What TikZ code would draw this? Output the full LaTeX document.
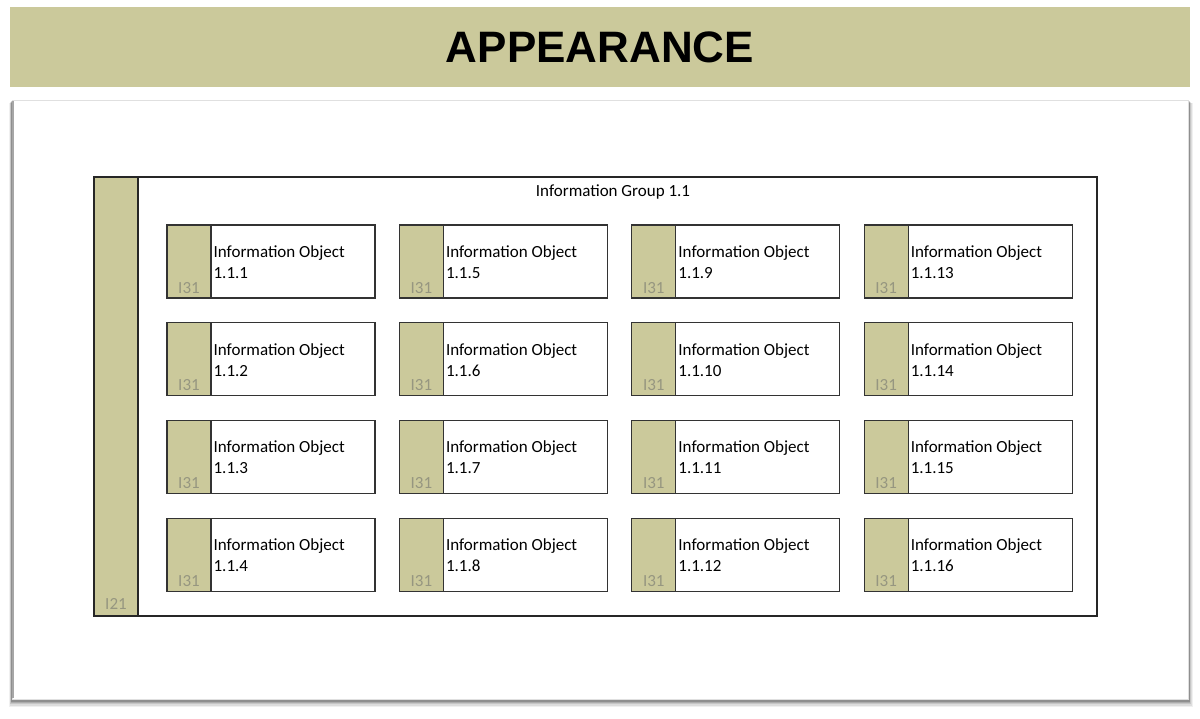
\documentclass[tikz,border=0pt]{standalone}
\usepackage{fontspec}
\setmainfont{Carlito}
\newfontfamily\titlefont{Liberation Sans}
\definecolor{olivefill}{RGB}{203,201,155}
\definecolor{idgray}{RGB}{150,150,128}
\tikzset{every picture/.style={line width=1.2pt}}
\tikzset{
  grpbox/.style={draw=black!85, rectangle, minimum width=1003pt, minimum height=439pt, inner sep=0pt,
    path picture={\fill[olivefill] (path picture bounding box.north west) rectangle ([xshift=44pt]path picture bounding box.south west);
      \draw[black!85] ([xshift=44pt]path picture bounding box.north west) -- ([xshift=44pt]path picture bounding box.south west);}},
  objbox/.style={draw=black!80, fill=white, rectangle, minimum width=208pt, minimum height=73pt, inner sep=0pt,
    path picture={\fill[olivefill] (path picture bounding box.north west) rectangle ([xshift=44pt]path picture bounding box.south west);
      \draw[black!80] ([xshift=44pt]path picture bounding box.north west) -- ([xshift=44pt]path picture bounding box.south west);}},
  objtext/.style={font=\fontsize{17}{21}\selectfont, align=left, inner sep=0pt},
  idlabel/.style={text=idgray, font=\fontsize{17}{17}\selectfont, inner sep=1pt}
}
\begin{document}
\begin{tikzpicture}[x=1pt,y=1pt,yscale=-1,xscale=1]
\useasboundingbox (0,0) rectangle (1200,718);

%Header band
\fill[olivefill] (10,7) rectangle (1190,87);
% Text Node
\node (title) at (600,47) {\titlefont\bfseries\fontsize{44}{44}\selectfont APPEARANCE};

%Frame with shadow
\foreach \s/\o in {6/0.06,5/0.08,4/0.1,3/0.13,2/0.17,1/0.22}
  \fill[black,opacity=\o] (12-\s*0.5,100+\s*0.5) rectangle (1188+\s*0.8,699+\s*1.3);
\draw[black!12,line width=0.8pt,fill=white] (12,100) rectangle (1188,699);
\draw[black!35,line width=1.5pt] (13,101) -- (13,698);

%Group
\node[grpbox] (grp) at (595.5,396.5) {};
% Text Node
\node[objtext] (grplabel) at (613,192) {Information Group 1.1};
\node[idlabel] (grpid) at (116,604) {I21};

%Objects
\foreach \c in {0,...,3}{
  \foreach \r in {0,...,3}{
    \pgfmathtruncatemacro{\n}{\c*4+\r+1}
    \pgfmathsetmacro{\bx}{167+\c*232.4}
    \pgfmathsetmacro{\by}{225+\r*97.7}
    \node[objbox] (obj\n) at (\bx+104,\by+36.5) {};
    \node[idlabel, anchor=south] (id\n) at (\bx+22,\by+70) {I31};
    \node[objtext, anchor=north west] (txt\n) at (\bx+46,\by+20) {Information Object\\1.1.\n};
  }
}

\end{tikzpicture}
\end{document}
